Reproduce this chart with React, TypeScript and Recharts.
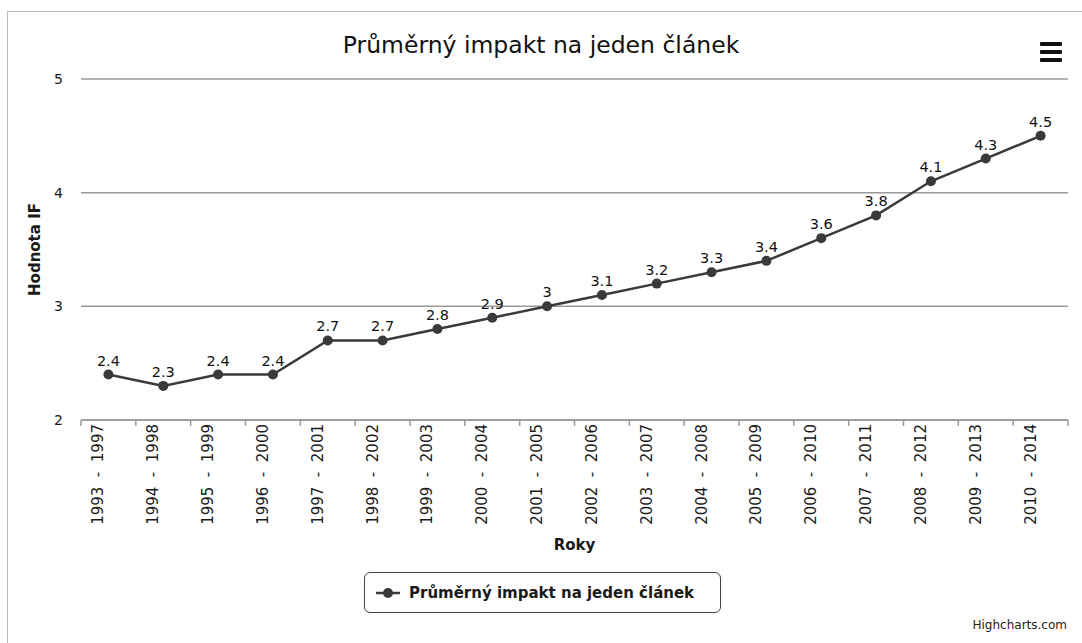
import React from "react";
import { LineChart, Line, XAxis, YAxis, CartesianGrid, LabelList, Label, Legend } from "recharts";

const periods = [
  "1993 - 1997", "1994 - 1998", "1995 - 1999", "1996 - 2000", "1997 - 2001", "1998 - 2002",
  "1999 - 2003", "2000 - 2004", "2001 - 2005", "2002 - 2006", "2003 - 2007", "2004 - 2008",
  "2005 - 2009", "2006 - 2010", "2007 - 2011", "2008 - 2012", "2009 - 2013", "2010 - 2014",
];
const impact = [2.4, 2.3, 2.4, 2.4, 2.7, 2.7, 2.8, 2.9, 3, 3.1, 3.2, 3.3, 3.4, 3.6, 3.8, 4.1, 4.3, 4.5];
const yTicks = [2, 3, 4, 5];

const seriesName = "Průměrný impakt na jeden článek";
const FONT = "'DejaVu Sans', Verdana, sans-serif";
const INK = "#3a3a3a";

const W = 1082;
const H = 643;
const PLOT_LEFT = 81;
const PLOT_RIGHT = 14;
const BAND = (W - PLOT_LEFT - PLOT_RIGHT) / periods.length;

const rows = periods.map((p, i) => ({ period: p, value: impact[i] }));

// highcharts-style: ticks between categories, rotated labels
const PeriodTick = (props: any) => {
  const { x, y, payload, index } = props;
  const half = BAND / 2;
  const last = index === periods.length - 1;
  return (
    <g>
      <line x1={x - half} y1={y} x2={x - half} y2={y + 6} stroke="#9a9a9a" strokeWidth={1.5} />
      {last && <line x1={x + half} y1={y} x2={x + half} y2={y + 6} stroke="#9a9a9a" strokeWidth={1.5} />}
      <text
        transform={`translate(${x - 10},${y + 4}) rotate(-90)`}
        textAnchor="end"
        dominantBaseline="central"
        fontSize={15}
        fontFamily={FONT}
        fill="#1a1a1a"
        style={{ whiteSpace: "pre" }}
      >
        {payload.value.replace(" - ", "  -  ")}
      </text>
    </g>
  );
};

const LegendBox = () => (
  <div
    style={{
      width: 355, height: 39, border: "1.5px solid #444", borderRadius: 6, background: "#fff",
      display: "flex", alignItems: "center", boxSizing: "content-box",
    }}
  >
    <svg width={44} height={20}>
      <line x1={11} y1={10} x2={35} y2={10} stroke={INK} strokeWidth={2.5} />
      <circle cx={23} cy={10} r={5} fill={INK} />
    </svg>
    <span style={{ fontFamily: FONT, fontWeight: "bold", fontSize: 15, color: "#1a1a1a" }}>{seriesName}</span>
  </div>
);

export default function App() {
  return (
    <div style={{ position: "absolute", left: 0, top: 0, width: W, height: H, background: "#fff", overflow: "hidden" }}>
      <div style={{ position: "absolute", left: 7, top: 11, width: W, height: H, borderLeft: "1px solid #b8b8b8", borderTop: "1px solid #b8b8b8" }} />
      <div style={{ position: "absolute", left: 0, top: 31, width: W, textAlign: "center", fontFamily: FONT, fontSize: 23.5, color: "#111" }}>
        {seriesName}
      </div>
      <div style={{ position: "absolute", left: 1040, top: 42, width: 22 }}>
        {[0, 1, 2].map((i) => (
          <div key={i} style={{ height: 4, background: "#111", marginBottom: 4, borderRadius: 1 }} />
        ))}
      </div>
      <div style={{ position: "absolute", right: 15, top: 618, fontFamily: FONT, fontSize: 12, color: "#222" }}>Highcharts.com</div>
      <div style={{ position: "absolute", left: 0, top: 0 }}>
        <LineChart width={W} height={H} data={rows} margin={{ top: 79, right: PLOT_RIGHT, left: 0, bottom: 113 }}>
          <CartesianGrid horizontal vertical={false} stroke="#9a9a9a" strokeWidth={1.5} />
          <YAxis
            width={PLOT_LEFT}
            domain={[2, 5]}
            ticks={yTicks}
            axisLine={false}
            tickLine={false}
            tickMargin={12}
            tick={{ fontSize: 14, fill: "#1a1a1a", fontFamily: FONT }}
          >
            <Label
              content={({ viewBox }: any) => (
                <text
                  transform={`translate(${35},${viewBox.y + viewBox.height / 2}) rotate(-90)`}
                  textAnchor="middle"
                  dominantBaseline="central"
                  fontSize={15}
                  fontWeight="bold"
                  fontFamily={FONT}
                  fill="#1a1a1a"
                >
                  Hodnota IF
                </text>
              )}
            />
          </YAxis>
          <XAxis
            dataKey="period"
            height={110}
            interval={0}
            padding={{ left: BAND / 2, right: BAND / 2 }}
            tickLine={false}
            tickSize={0}
            tickMargin={0}
            axisLine={{ stroke: "#9a9a9a", strokeWidth: 1.5 }}
            tick={<PeriodTick />}
          >
            <Label
              content={({ viewBox }: any) => (
                <text
                  x={PLOT_LEFT + (W - PLOT_LEFT - PLOT_RIGHT) / 2}
                  y={545}
                  textAnchor="middle"
                  dominantBaseline="central"
                  fontSize={15}
                  fontWeight="bold"
                  fontFamily={FONT}
                  fill="#1a1a1a"
                >
                  Roky
                </text>
              )}
            />
          </XAxis>
          <Legend
            layout="horizontal"
            verticalAlign="middle"
            align="center"
            content={<LegendBox />}
            wrapperStyle={{ left: 364, top: 572, width: 358, height: 42 }}
          />
          <Line
            type="linear"
            dataKey="value"
            name={seriesName}
            stroke={INK}
            strokeWidth={2.5}
            dot={{ r: 5, fill: INK, stroke: INK, strokeWidth: 0 }}
            activeDot={false}
            isAnimationActive={false}
          >
            <LabelList dataKey="value" position="top" offset={9} style={{ fontSize: 14.5, fill: "#111", fontFamily: FONT }} />
          </Line>
        </LineChart>
      </div>
    </div>
  );
}
